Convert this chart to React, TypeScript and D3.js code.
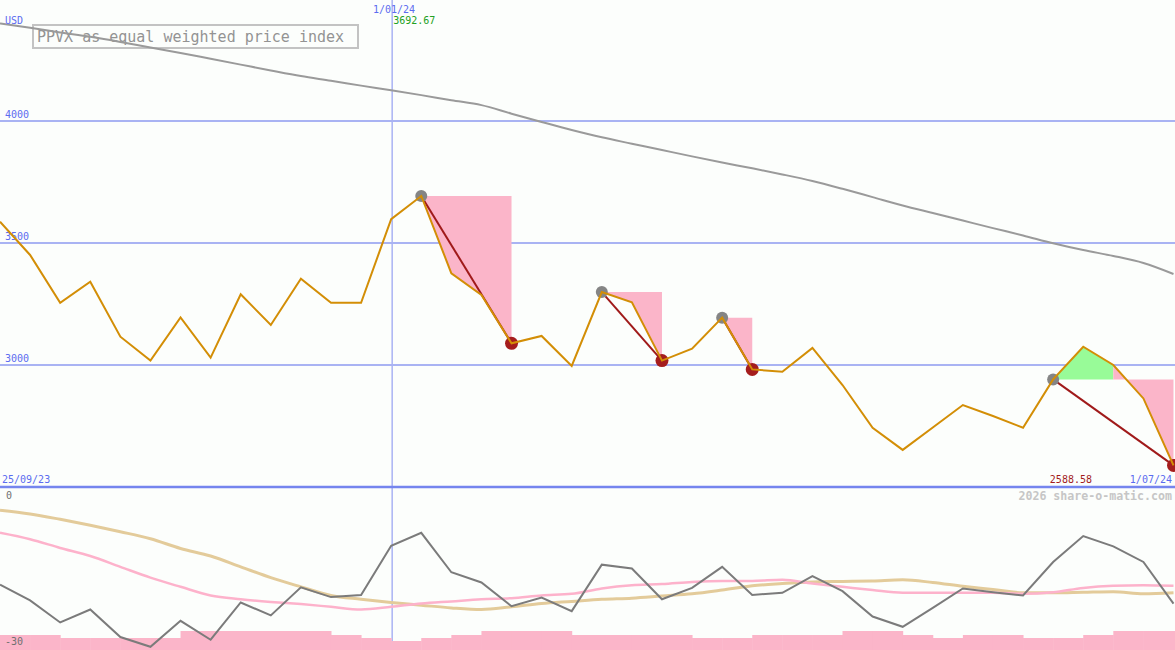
import * as d3 from "d3";

const W = 1175;
const H = 650;

// weekly closes of the index, 25/09/23 .. 1/07/24
const price = [
  3587, 3451, 3255, 3341, 3116, 3018, 3195, 3030, 3290, 3164,
  3354, 3255, 3255, 3598, 3692.67, 3376, 3287, 3089, 3119, 2996,
  3299, 3257, 3018, 3067, 3194, 2982, 2972, 3070, 2918, 2743,
  2652, 2744, 2836, 2791, 2743, 2941, 3075, 3000, 2863, 2588.58,
];

// long moving average (grey)
const longAvg = [
  4400, 4382, 4363, 4345, 4324, 4301, 4279, 4255, 4231, 4207,
  4184, 4165, 4145, 4126, 4106, 4085, 4065, 4030, 3996, 3963,
  3933, 3907, 3881, 3855, 3830, 3806, 3781, 3754, 3722, 3688,
  3654, 3623, 3592, 3561, 3531, 3499, 3471, 3447, 3418, 3373,
];

// peak -> trough pairs (indices into price)
const drawdowns: [number, number][] = [[14, 17], [20, 22], [24, 25], [35, 39]];

// lower panel oscillator and its averages
const osc = [
  -17.9, -20.8, -24.9, -22.5, -27.6, -29.4, -24.6, -28.1, -21.2, -23.6,
  -18.4, -20.2, -19.8, -10.7, -8.3, -15.6, -17.5, -21.9, -20.3, -22.8,
  -14.2, -14.9, -20.6, -18.5, -14.6, -19.8, -19.4, -16.3, -19.1, -23.8,
  -25.7, -22.2, -18.6, -19.3, -19.9, -13.7, -8.9, -10.8, -13.7, -21.4,
];
const oscFast = [
  -8.3, -9.5, -11.1, -12.6, -14.6, -16.6, -18.3, -19.9, -20.6, -21.1,
  -21.5, -22.0, -22.5, -22.0, -21.4, -21.0, -20.6, -20.4, -19.9, -19.6,
  -18.6, -18.0, -17.8, -17.4, -17.2, -17.2, -17.0, -17.7, -18.3, -18.9,
  -19.4, -19.4, -19.4, -19.4, -19.6, -19.3, -18.5, -18.1, -18.0, -18.1,
];
const oscSlow = [
  -4.1, -4.8, -5.8, -6.9, -8.1, -9.4, -11.2, -12.6, -14.6, -16.6,
  -18.3, -19.9, -20.6, -21.2, -21.7, -22.2, -22.5, -22.0, -21.4, -21.0,
  -20.6, -20.4, -20.0, -19.6, -18.9, -18.1, -17.7, -17.4, -17.3, -17.2,
  -17.0, -17.5, -18.2, -18.8, -19.4, -19.4, -19.3, -19.2, -19.6, -19.4,
];
// bar heights per week interval
const bars = [
  15, 15, 12, 12, 12, 12, 19, 19, 19, 19,
  19, 15, 12, 9, 12, 15, 19, 19, 19, 15,
  15, 15, 15, 12, 12, 15, 15, 15, 19, 19,
  15, 12, 15, 15, 12, 12, 15, 19, 19,
];

const priceTicks = [4000, 3500, 3000];
const dateLabels = { start: "25/09/23", mid: "1/01/24", end: "1/07/24" };
const midIndex = 13;

const mono = "'DejaVu Sans Mono', monospace";
const blue = "#5b6cf0";
const gridCol = "#a9b3f3";

export default function App() {
  const x = d3.scaleLinear().domain([0, price.length - 1]).range([0, 1173.5]);
  const y = d3.scaleLinear().domain([2500, 4500]).range([487, -1]);
  const yl = d3.scaleLinear().domain([-30, 0]).range([650, 488]);
  const yb = d3.scaleLinear().domain([0, 20]).range([650, 630]);

  const priceLine = d3.line<number>().x((_, i) => x(i)).y((d) => y(d));
  const avgLine = d3.line<number>().x((_, i) => x(i)).y((d) => y(d)).curve(d3.curveMonotoneX);
  const oscLine = d3.line<number>().x((_, i) => x(i)).y((d) => yl(d));
  const oscSmooth = d3.line<number>().x((_, i) => x(i)).y((d) => yl(d)).curve(d3.curveMonotoneX);

  // fills between price and peak level, green above / pink below
  const fills: { d: string; color: string }[] = [];
  drawdowns.forEach(([p, t]) => {
    const level = price[p];
    let start = p;
    let up = price[p + 1] > level;
    for (let j = p; j < t; j++) {
      const u = price[j + 1] > level;
      if (u !== up) {
        fills.push({ d: makeArea(start, j, level), color: up ? "#98fb98" : "#fbb5c9" });
        start = j;
        up = u;
      }
    }
    fills.push({ d: makeArea(start, t, level), color: up ? "#98fb98" : "#fbb5c9" });
  });

  function makeArea(a: number, b: number, level: number) {
    const idx = d3.range(a, b + 1);
    return d3.area<number>().x((i) => x(i)).y0(y(level)).y1((i) => y(price[i]))(idx) || "";
  }

  const maxI = d3.maxIndex(price);
  const minI = d3.minIndex(price);

  return (
    <svg width={W} height={H} style={{ position: "absolute", left: 0, top: 0, background: "#fcfefc" }}>
      <rect width={W} height={H} fill="#fcfefc" />

      {/* grid */}
      {priceTicks.map((t) => (
        <g key={t}>
          <line x1={0} x2={W} y1={y(t)} y2={y(t)} stroke={gridCol} strokeWidth={2} />
          <text x={5} y={y(t) - 3} fontFamily={mono} fontSize={10} fill={blue}>{t}</text>
        </g>
      ))}
      <line x1={x(midIndex) + 1} x2={x(midIndex) + 1} y1={0} y2={H} stroke={gridCol} strokeWidth={1.5} />

      {/* lower panel bars */}
      {bars.map((b, j) => (
        <rect key={j} x={x(j)} width={(j === bars.length - 1 ? W : x(j + 1)) - x(j) + 0.5}
          y={yb(b)} height={650 - yb(b)} fill="#fbb5c9" />
      ))}

      {/* title */}
      <rect x={33} y={25} width={325} height={23} fill="none" stroke="#c3c3c3" strokeWidth={2} />
      <text x={37} y={42} fontFamily={mono} fontSize={15} fill="#939393">PPVX as equal weighted price index</text>

      {/* drawdown fills */}
      {fills.map((f, i) => <path key={i} d={f.d} fill={f.color} />)}

      <path d={avgLine(longAvg) || ""} fill="none" stroke="#9a9a9a" strokeWidth={2} />

      {drawdowns.map(([p, t], i) => (
        <line key={i} x1={x(p)} y1={y(price[p])} x2={x(t)} y2={y(price[t])} stroke="#a01a1a" strokeWidth={2} />
      ))}
      {drawdowns.map(([p, t], i) => (
        <g key={"d" + i}>
          <circle cx={x(p)} cy={y(price[p])} r={6} fill="#858585" />
          <circle cx={x(t)} cy={y(price[t])} r={6.5} fill="#a51d1d" />
        </g>
      ))}

      <path d={priceLine(price) || ""} fill="none" stroke="#d38e06" strokeWidth={2} />

      {/* lower panel lines */}
      <path d={oscSmooth(oscSlow) || ""} fill="none" stroke="#e3cb9a" strokeWidth={3} />
      <path d={oscSmooth(oscFast) || ""} fill="none" stroke="#fdb2cb" strokeWidth={2.5} />
      <path d={oscLine(osc) || ""} fill="none" stroke="#7b7b7b" strokeWidth={2} />

      {/* separator */}
      <line x1={0} x2={W} y1={y(2500)} y2={y(2500)} stroke="#7585ee" strokeWidth={2.5} />

      {/* labels */}
      <text x={5} y={24} fontFamily={mono} fontSize={10} fill={blue}>USD</text>
      <text x={373} y={13} fontFamily={mono} fontSize={10} fill={blue}>{dateLabels.mid}</text>
      <text x={x(midIndex) + 2} y={24} fontFamily={mono} fontSize={10} fill="#22a022">
        {price[maxI].toFixed(2)}
      </text>
      <text x={2} y={483} fontFamily={mono} fontSize={10} fill={blue}>{dateLabels.start}</text>
      <text x={1172} y={483} textAnchor="end" fontFamily={mono} fontSize={10} fill={blue}>{dateLabels.end}</text>
      <text x={1092} y={483} textAnchor="end" fontFamily={mono} fontSize={10} fill="#a31c1c">
        {price[minI].toFixed(2)}
      </text>
      <text x={1172} y={500} textAnchor="end" fontFamily={mono} fontSize={11.6} fontWeight="bold" fill="#c6c6c6">
        2026 share-o-matic.com
      </text>
      <text x={6} y={499} fontFamily={mono} fontSize={10} fill="#707070">0</text>
      <text x={5} y={645} fontFamily={mono} fontSize={10} fill="#707070">-30</text>
    </svg>
  );
}
